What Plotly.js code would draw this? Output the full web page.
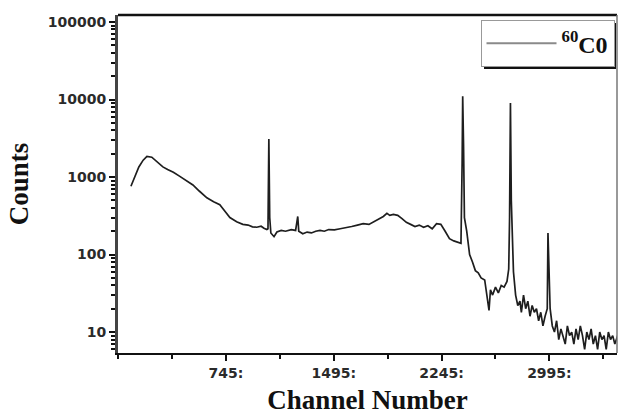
<!DOCTYPE html>
<html>
<head>
<meta charset="utf-8">
<script src="https://cdn.plot.ly/plotly-3.0.1.min.js"></script>
<style>html,body{margin:0;padding:0;background:#fff;}#chart{width:619px;height:415px;}</style>
</head>
<body>
<div id="chart"></div>
<script>
// Channel numbers and counts (60Co)
var channels = [85,110,140,170,196,230,270,307,340,380,425,470,516,560,613,660,703,740,773,820,863,900,930,960,990,1010,1030,1038,
1044,1050,1058,1080,1100,1130,1160,1200,1230,1245,1252,1280,1310,1340,1370,1400,1430,1460,1500,1540,1580,1620,1660,1700,1740,1780,
1810,1840,1865,1885,1910,1940,1970,2000,2030,2060,2090,2120,2150,2180,2210,2240,2270,2300,2330,2360,2380,2388,2392,2398,2404,2420,
2440,2460,2480,2500,2520,2545,2560,2575,2585,2600,2620,2640,2660,2680,2700,2712,2718,2724,2730,2738,2745,2760,2775,2790,2800,2815,
2830,2845,2860,2875,2890,2905,2920,2935,2950,2965,2980,2985,2992,3000,3015,3030,3045,3060,3075,3090,3105,3120,3135,3150,3165,3180,
3195,3210,3225,3240,3255,3270,3285,3300,3315,3330,3345,3360,3375,3390,3405,3420,3435,3450,3470];
var counts = [760,1000,1350,1650,1850,1800,1550,1350,1250,1150,1020,900,790,660,540,480,440,360,300,265,245,240,228,225,232,218,210,215,
3100,300,190,170,195,205,200,210,205,310,200,185,195,190,200,205,200,210,208,215,220,230,240,250,245,270,
290,310,340,320,330,320,290,260,245,230,240,225,235,215,250,245,200,160,150,145,140,1500,11000,2500,300,200,
100,80,62,58,50,47,30,19,35,30,38,32,40,38,45,65,300,9000,500,200,60,30,22,25,18,30,
20,25,16,22,18,20,14,18,12,16,20,190,60,20,12,10,14,8,11,9,7,12,9,10,7,11,
8,12,9,6,10,8,11,7,9,6,10,8,9,6,10,8,9,7,9];

var yTickVals = [10,100,1000,10000,100000];
var yTickText = ['10','100','1000','10000','100000'];
var yMinorVals = [6,7,8,9,20,30,40,50,60,70,80,90,200,300,400,500,600,700,800,900,2000,3000,4000,5000,6000,7000,8000,9000,
20000,30000,40000,50000,60000,70000,80000,90000];
var xTickVals = [745,1495,2245,2995];
var xTickText = ['745:','1495:','2245:','2995:'];
var xMinorVals = [-5,370,1120,1870,2620,3370];
var seriesName = '<sup>60</sup>C0';

var tickFont = {family:'DejaVu Sans', size:14, color:'#2a2a2a', weight:'bold'};
var titleFont = {family:'Liberation Serif', size:27, color:'#111', weight:'bold'};

var traces = [
  {x: channels, y: counts, type:'scatter', mode:'lines', line:{color:'#1e1e1e', width:1.7}, showlegend:false, hoverinfo:'skip'},
  {x: [null], y: [null], type:'scatter', mode:'lines', name: seriesName, line:{color:'#8a8a8a', width:2}}
];

var layout = {
  width:619, height:415,
  margin:{l:118, r:2, t:15, b:62},
  paper_bgcolor:'#fff', plot_bgcolor:'#fff',
  xaxis:{
    range:[-5,3465], showgrid:false, zeroline:false,
    showline:true, linecolor:'#111', linewidth:2, mirror:false,
    tickmode:'array', tickvals:xTickVals, ticktext:xTickText,
    ticks:'outside', ticklen:6, tickwidth:2, tickcolor:'#111',
    tickfont:tickFont,
    minor:{tickmode:'array', tickvals:xMinorVals, ticks:'outside', ticklen:4, tickwidth:2, tickcolor:'#111', showgrid:false},
    title:{text:'Channel Number', font:titleFont, standoff:12}
  },
  yaxis:{
    type:'log', range:[0.73,5.09], showgrid:false, zeroline:false,
    showline:true, linecolor:'#444', linewidth:3,
    tickmode:'array', tickvals:yTickVals, ticktext:yTickText,
    ticks:'outside', ticklen:6, tickwidth:2, tickcolor:'#111',
    tickfont:tickFont,
    minor:{tickmode:'array', tickvals:yMinorVals, ticks:'outside', ticklen:4, tickwidth:2, tickcolor:'#111', showgrid:false},
    title:{text:'Counts', font:titleFont, standoff:12}
  },
  shapes:[
    {type:'line', xref:'paper', yref:'paper', x0:0, x1:1, y0:1, y1:1, line:{color:'#111', width:2.5}},
    {type:'line', xref:'paper', yref:'paper', x0:1, x1:1, y0:0, y1:1, line:{color:'#777', width:1.5}},
    {type:'rect', xref:'paper', yref:'paper', x0:0.7335, x1:0.998, y0:0.840, y1:0.976, fillcolor:'#111', line:{width:0}}
  ],
  legend:{
    x:0.995, xanchor:'right', y:0.985, yanchor:'top',
    bgcolor:'#fff', bordercolor:'#999', borderwidth:1,
    font:{family:'Liberation Serif', size:24, color:'#111', weight:'bold'},
    itemwidth:70, tracegroupgap:0
  }
};

Plotly.newPlot('chart', traces, layout, {displayModeBar:false, staticPlot:true});
</script>
</body>
</html>
